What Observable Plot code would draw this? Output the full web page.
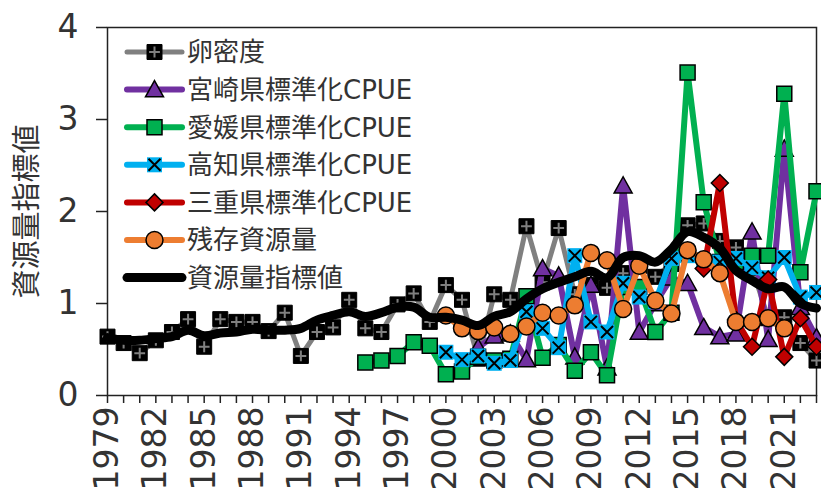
<!DOCTYPE html>
<html><head><meta charset="utf-8">
<script src="https://cdn.jsdelivr.net/npm/d3@7"></script>
<script src="https://cdn.jsdelivr.net/npm/@observablehq/plot@0.6"></script>
<style>
body{margin:0;background:#fff;}
#wrap{position:relative;width:821px;height:495px;overflow:hidden;font-family:"DejaVu Sans","Noto Sans CJK JP",sans-serif;}
#wrap svg{display:block;}
#legend{position:absolute;left:0;top:0;}
</style></head><body><div id="wrap"></div>
<script>
const years = [1979,1980,1981,1982,1983,1984,1985,1986,1987,1988,1989,1990,1991,1992,1993,1994,1995,1996,1997,1998,1999,2000,2001,2002,2003,2004,2005,2006,2007,2008,2009,2010,2011,2012,2013,2014,2015,2016,2017,2018,2019,2020,2021,2022,2023];
const labelYears = [1979,1982,1985,1988,1991,1994,1997,2000,2003,2006,2009,2012,2015,2018,2021];
const yTicks = [0,1,2,3,4];

const eggDensity = [0.64,0.57,0.46,0.60,0.69,0.83,0.53,0.83,0.80,0.80,0.70,0.90,0.43,0.69,0.74,1.04,0.73,0.69,0.99,1.11,0.80,1.20,1.04,0.40,1.10,1.04,1.84,1.23,1.82,1.10,1.20,1.17,1.33,1.41,1.29,1.43,1.85,1.87,1.68,1.61,1.39,0.84,0.85,0.57,0.38];
const miyazaki = [null,null,null,null,null,null,null,null,null,null,null,null,null,null,null,null,null,null,null,null,null,null,null,0.52,0.65,0.67,0.39,1.38,1.30,0.42,1.20,0.30,2.28,0.69,1.00,1.28,1.22,0.74,0.64,0.67,1.78,0.61,2.68,0.96,0.63];
const ehime = [null,null,null,null,null,null,null,null,null,null,null,null,null,null,null,null,0.36,0.38,0.43,0.58,0.54,0.23,0.26,0.42,0.38,0.40,1.08,0.41,0.55,0.27,0.47,0.22,1.18,1.18,0.69,0.90,3.51,2.10,1.45,1.45,1.52,1.52,3.28,1.34,2.22];
const kochi = [null,null,null,null,null,null,null,null,null,null,null,null,null,null,null,null,null,null,null,null,null,0.47,0.39,0.43,0.35,0.38,0.91,0.73,0.52,1.52,0.80,0.69,1.22,1.07,1.02,1.49,1.52,1.45,1.45,1.49,1.39,1.28,1.50,1.07,1.12];
const mie = [null,null,null,null,null,null,null,null,null,null,null,null,null,null,null,null,null,null,null,null,null,null,null,null,null,null,null,null,null,null,null,null,null,null,null,null,null,1.38,2.31,0.82,0.53,1.26,0.42,0.84,0.53];
const residual = [null,null,null,null,null,null,null,null,null,null,null,null,null,null,null,null,null,null,null,null,null,0.87,0.73,0.70,0.74,0.67,0.75,0.90,0.87,0.98,1.55,1.47,0.94,1.41,1.03,0.89,1.58,1.48,1.33,0.80,0.80,0.84,0.73,null,null];
const indexValue = [0.63,0.60,0.60,0.62,0.64,0.71,0.65,0.68,0.69,0.72,0.71,0.71,0.73,0.82,0.87,0.91,0.86,0.90,0.96,0.96,0.85,0.85,0.82,0.76,0.86,0.91,1.05,1.16,1.23,1.29,1.35,1.28,1.50,1.52,1.45,1.59,1.78,1.72,1.60,1.36,1.25,1.16,1.18,1.00,0.95];

const seriesNames = ["卵密度","宮崎県標準化CPUE","愛媛県標準化CPUE","高知県標準化CPUE","三重県標準化CPUE","残存資源量","資源量指標値"];

// custom symbols (size = PI*r^2)
const hOf = s => Math.sqrt(s/Math.PI);
const squareSym = {draw(c,s){const h=hOf(s);c.rect(-h,-h,2*h,2*h);}};
const plusSym = {draw(c,s){const h=hOf(s)*0.72;c.moveTo(-h,0);c.lineTo(h,0);c.moveTo(0,-h);c.lineTo(0,h);}};
const xSym = {draw(c,s){const h=hOf(s)*0.8;c.moveTo(-h,-h);c.lineTo(h,h);c.moveTo(h,-h);c.lineTo(-h,h);}};
const triSym = {draw(c,s){const h=hOf(s);c.moveTo(0,-h);c.lineTo(h,h*0.8);c.lineTo(-h,h*0.8);c.closePath();}};
const diaSym = {draw(c,s){const h=hOf(s);c.moveTo(0,-h);c.lineTo(h,0);c.lineTo(0,h);c.lineTo(-h,0);c.closePath();}};

const rows = vals => years.map((yr,i)=>({year:yr, value:vals[i]})).filter(d=>d.value!=null);
const egg = rows(eggDensity), miy = rows(miyazaki), ehi = rows(ehime), koc = rows(kochi), mi = rows(mie), res = rows(residual), idx = rows(indexValue);

const C = {gray:"#808080", purple:"#7030A0", green:"#00B050", blue:"#00B0F0", red:"#C00000", orange:"#ED7D31", black:"#000000"};
const XY = {x:"year", y:"value"};

const chart = Plot.plot({
  width: 821, height: 495,
  marginLeft: 107, marginRight: 5, marginTop: 27, marginBottom: 100,
  x: {domain:[1979,2023]},
  y: {domain:[0,4]},
  style: {fontFamily:'"DejaVu Sans","Noto Sans CJK JP",sans-serif', fontSize:"26px", color:"#333", background:"#fff", overflow:"visible"},
  marks: [
    Plot.frame({stroke:"#222", strokeWidth:1.5}),
    Plot.axisY({ticks:yTicks, tickSize:11, tickPadding:18, label:null, stroke:"#222", strokeWidth:1.5, fontSize:33,
      tickFormat: d => String(d)}),
    Plot.axisX({ticks:years, tickSize:8, tickPadding:3, tickRotate:-90, label:null, stroke:"#222", strokeWidth:1.5, fontSize:33,
      tickFormat: d => labelYears.includes(d) ? String(d) : ""}),
    Plot.text([seriesNames[6]], {frameAnchor:"left", textAnchor:"middle", dx:-80, rotate:-90, fontSize:29, fill:"#333"}),
    // egg density
    Plot.line(egg, {...XY, stroke:C.gray, strokeWidth:5}),
    Plot.dot(egg, {...XY, symbol:squareSym, r:7.5, fill:"#000", stroke:"#000", strokeWidth:1}),
    Plot.dot(egg, {...XY, symbol:plusSym, r:7.5, fill:"none", stroke:C.gray, strokeWidth:2}),
    // Miyazaki
    Plot.line(miy, {...XY, stroke:C.purple, strokeWidth:6}),
    Plot.dot(miy, {...XY, symbol:triSym, r:9, fill:C.purple, stroke:"#000", strokeWidth:1.5}),
    // Ehime
    Plot.line(ehi, {...XY, stroke:C.green, strokeWidth:6}),
    Plot.dot(ehi, {...XY, symbol:squareSym, r:7.5, fill:C.green, stroke:"#000", strokeWidth:1.5}),
    // Kochi
    Plot.line(koc, {...XY, stroke:C.blue, strokeWidth:6}),
    Plot.dot(koc, {...XY, symbol:squareSym, r:7.5, fill:C.blue, stroke:"none"}),
    Plot.dot(koc, {...XY, symbol:xSym, r:7.5, fill:"none", stroke:"#000", strokeWidth:2}),
    // Mie
    Plot.line(mi, {...XY, stroke:C.red, strokeWidth:6}),
    Plot.dot(mi, {...XY, symbol:diaSym, r:8.5, fill:C.red, stroke:"#000", strokeWidth:1.5}),
    // residual
    Plot.line(res, {...XY, stroke:C.orange, strokeWidth:6}),
    Plot.dot(res, {...XY, r:8.5, fill:C.orange, stroke:"#000", strokeWidth:1.5}),
    // index
    Plot.line(idx, {...XY, stroke:C.black, strokeWidth:9, curve:"catmull-rom"})
  ]
});
document.getElementById("wrap").appendChild(chart);

// legend
const legendItems = [
  {name:seriesNames[0], color:C.gray, w:5, marks:[{sym:squareSym,r:7.5,fill:"#000",stroke:"#000",sw:1},{sym:plusSym,r:7.5,fill:"none",stroke:C.gray,sw:2}]},
  {name:seriesNames[1], color:C.purple, w:6, marks:[{sym:triSym,r:9,fill:C.purple,stroke:"#000",sw:1.5}]},
  {name:seriesNames[2], color:C.green, w:6, marks:[{sym:squareSym,r:7.5,fill:C.green,stroke:"#000",sw:1.5}]},
  {name:seriesNames[3], color:C.blue, w:6, marks:[{sym:squareSym,r:7.5,fill:C.blue,stroke:"none",sw:0},{sym:xSym,r:7.5,fill:"none",stroke:"#000",sw:2}]},
  {name:seriesNames[4], color:C.red, w:6, marks:[{sym:diaSym,r:8.5,fill:C.red,stroke:"#000",sw:1.5}]},
  {name:seriesNames[5], color:C.orange, w:6, marks:[{sym:d3.symbolCircle,r:8.5,fill:C.orange,stroke:"#000",sw:1.5}]},
  {name:seriesNames[6], color:C.black, w:9, marks:[]}
];
const lg = d3.select("#wrap").append("svg").attr("id","legend").attr("width",821).attr("height",495)
  .style("pointer-events","none");
legendItems.forEach((it,i)=>{
  const y = 52 + i*37.6;
  const g = lg.append("g").attr("transform",`translate(0,${y})`);
  g.append("line").attr("x1",127).attr("x2",182).attr("y1",0).attr("y2",0)
    .attr("stroke",it.color).attr("stroke-width",it.w).attr("stroke-linecap","round");
  it.marks.forEach(m=>{
    g.append("path").attr("transform","translate(154.5,0)")
     .attr("d", d3.symbol().type(m.sym).size(Math.PI*m.r*m.r)())
     .attr("fill",m.fill).attr("stroke",m.stroke).attr("stroke-width",m.sw);
  });
  g.append("text").attr("x",187).attr("y",0).attr("dy","0.36em")
    .attr("font-size",26).attr("fill","#333").text(it.name);
});
</script>
</body></html>
